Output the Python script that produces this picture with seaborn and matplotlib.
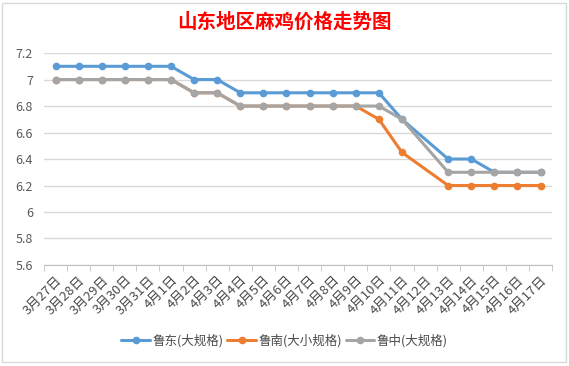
import numpy as np
import pandas as pd
import matplotlib
matplotlib.use('Agg')
import matplotlib.pyplot as plt
import seaborn as sns
from matplotlib.patches import Rectangle

# ── Data ───────────────────────────────────────────────────────────────────────
DATES = ["3月27日", "3月28日", "3月29日", "3月30日", "3月31日", "4月1日",
         "4月2日", "4月3日", "4月4日", "4月5日", "4月6日", "4月7日",
         "4月8日", "4月9日", "4月10日", "4月11日", "4月12日", "4月13日",
         "4月14日", "4月15日", "4月16日", "4月17日"]
LUDONG   = [7.1, 7.1, 7.1, 7.1, 7.1, 7.1, 7.0, 7.0, 6.9, 6.9, 6.9, 6.9,
            6.9, 6.9, 6.9, 6.7, np.nan, 6.4, 6.4, 6.3, 6.3, 6.3]
LUNAN    = [7.0, 7.0, 7.0, 7.0, 7.0, 7.0, 6.9, 6.9, 6.8, 6.8, 6.8, 6.8,
            6.8, 6.8, 6.7, 6.45, np.nan, 6.2, 6.2, 6.2, 6.2, 6.2]
LUZHONG  = [7.0, 7.0, 7.0, 7.0, 7.0, 7.0, 6.9, 6.9, 6.8, 6.8, 6.8, 6.8,
            6.8, 6.8, 6.8, 6.7, np.nan, 6.3, 6.3, 6.3, 6.3, 6.3]
SERIES   = ["鲁东(大规格)", "鲁南(大小规格)", "鲁中(大规格)"]
YTICKS   = [5.6, 5.8, 6.0, 6.2, 6.4, 6.6, 6.8, 7.0, 7.2]
YLABELS  = ["5.6", "5.8", "6", "6.2", "6.4", "6.6", "6.8", "7", "7.2"]
TITLE    = "山东地区麻鸡价格走势图"

COLORS = ["#5B9BD5", "#ED7D31", "#A5A5A5"]

frames = []
for name, vals in zip(SERIES, [LUDONG, LUNAN, LUZHONG]):
    frames.append(pd.DataFrame({"idx": range(len(DATES)), "price": vals, "series": name}))
df = pd.concat(frames).dropna()

sns.set_style("white")
plt.rcParams['font.family'] = ['Noto Sans CJK SC', 'DejaVu Sans']

fig = plt.figure(figsize=(5.69, 3.66), dpi=100)
ax = fig.add_axes([0.0773, 0.276, 0.893, 0.579])

sns.lineplot(data=df, x="idx", y="price", hue="series", hue_order=SERIES,
             palette=COLORS, marker="o", markersize=5.5, markeredgewidth=0,
             linewidth=2.2, ax=ax, legend=False, sort=False)

ax.set_xlim(-0.5, len(DATES) - 0.5)
ax.set_ylim(5.6, 7.2)
ax.set_yticks(YTICKS)
ax.set_yticklabels(YLABELS, fontsize=9, color="#595959")
ax.yaxis.grid(True, color="#D9D9D9", lw=1)
ax.tick_params(axis="y", length=0, pad=8)

ax.set_xticks(range(len(DATES)))
ax.set_xticklabels(DATES, rotation=45, ha="right", rotation_mode="anchor",
                   fontsize=9.5, color="#4A4A4A")
ax.set_xticks(np.arange(-0.5, len(DATES)), minor=True)
ax.tick_params(axis="x", which="major", length=0, pad=6)
ax.tick_params(axis="x", which="minor", length=4, color="#BFBFBF", bottom=True)
ax.set_xlabel(""); ax.set_ylabel("")
for side in ["left", "right", "top"]:
    ax.spines[side].set_visible(False)
ax.spines["bottom"].set_color("#BFBFBF")

fig.text(0.5, 0.94, TITLE, ha="center", va="center", fontsize=14,
         color="red", fontweight="bold")

handles = [plt.Line2D([], [], color=c, lw=2.2, marker="o", markersize=5.5,
                      markeredgewidth=0) for c in COLORS]
fig.legend(handles, SERIES, loc="center", bbox_to_anchor=(0.5, 0.068), ncol=3,
           frameon=False, fontsize=9, handlelength=2.3, columnspacing=0.3,
           handletextpad=0.2, labelcolor="#4A4A4A")

fig.patches.append(Rectangle((0.004, 0.01), 0.99, 0.982, transform=fig.transFigure,
                             fill=False, edgecolor="#D9D9D9", lw=1))

plt.savefig("out.png", dpi=100)
plt.close()
